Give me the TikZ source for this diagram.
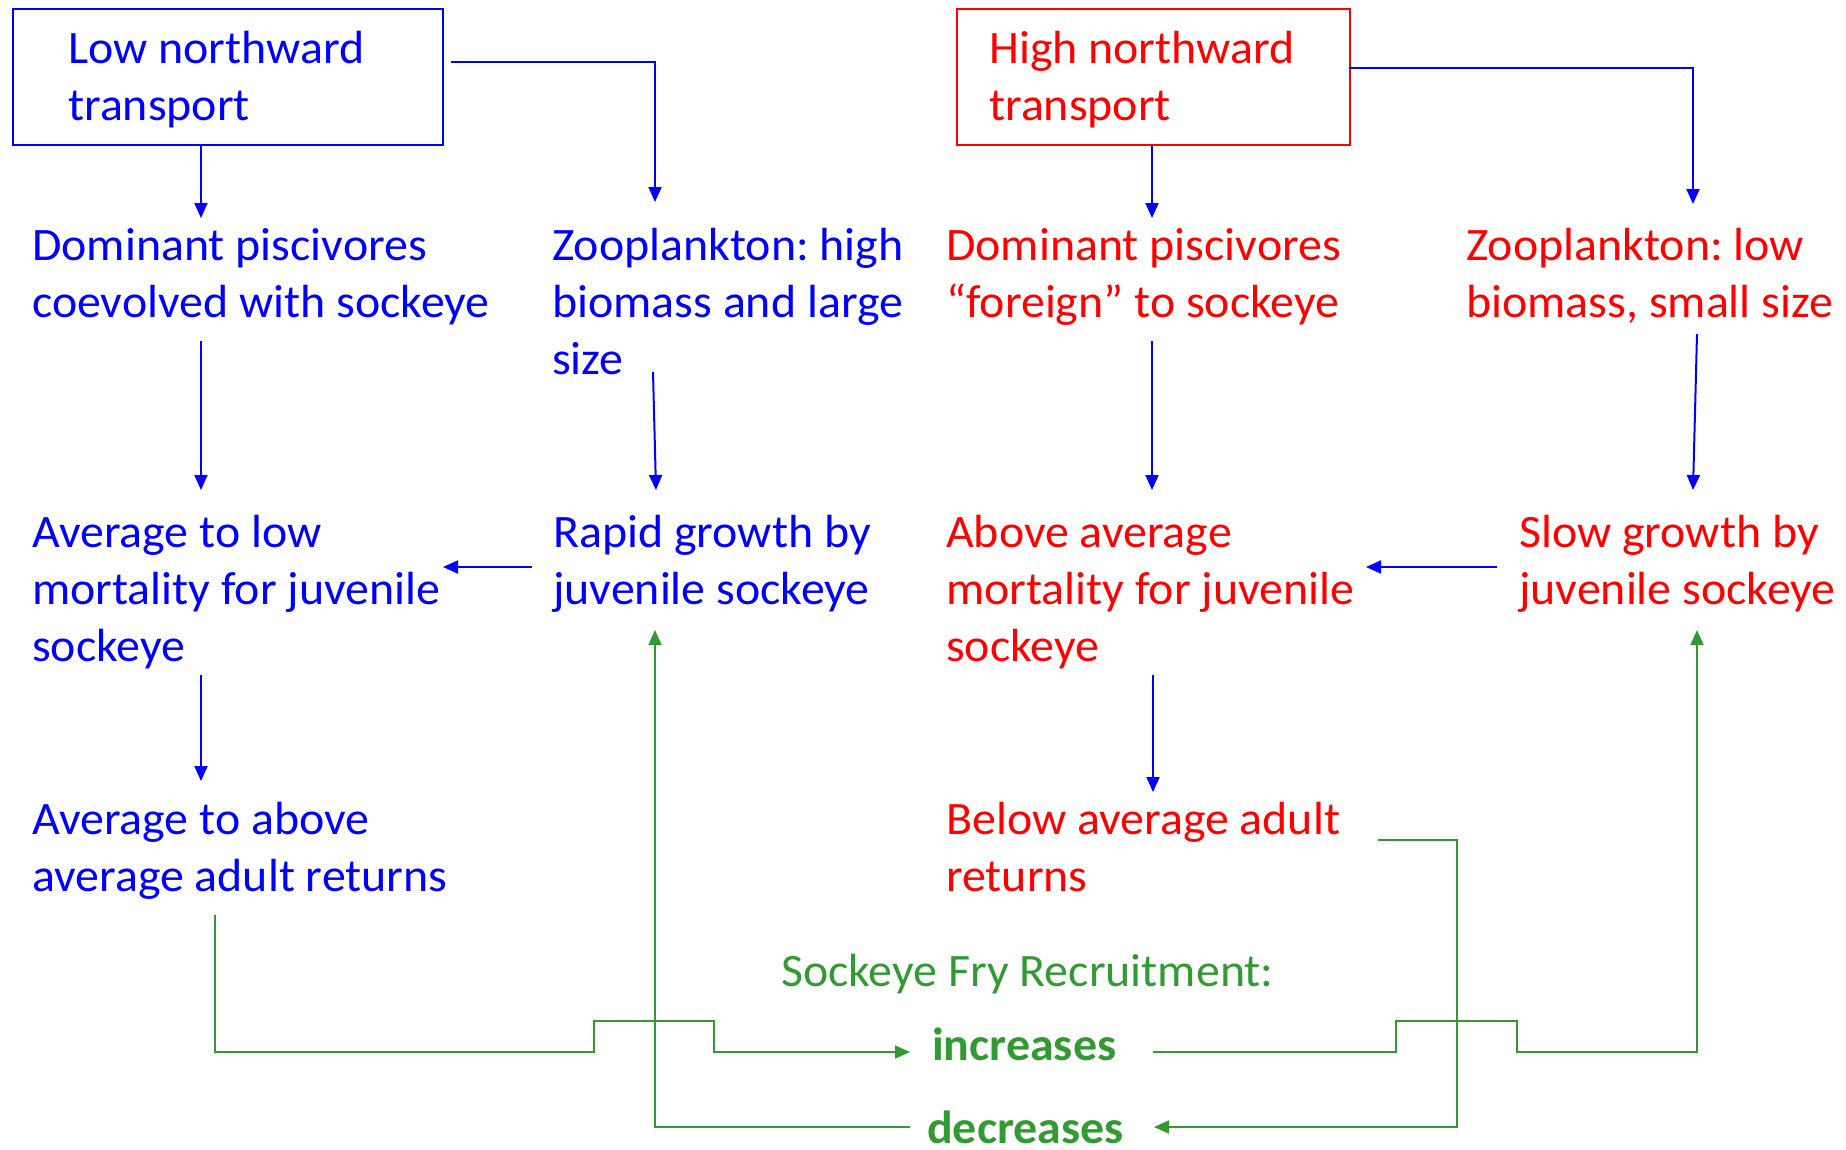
\documentclass[tikz,border=0pt]{standalone}
\usepackage{fontspec}
\setmainfont{Carlito}[FakeStretch=1.03]
\usetikzlibrary{arrows.meta}
\definecolor{fblue}{RGB}{0,0,255}
\definecolor{fred}{RGB}{255,0,0}
\definecolor{fgreen}{RGB}{51,153,51}
\begin{document}
\begin{tikzpicture}[x=1pt,y=-1pt,
  every node/.style={font=\fontsize{46.5}{57}\selectfont\frenchspacing},
  txt/.style={anchor=base west, inner sep=0pt, align=flush left},
  bluetxt/.style={txt, text=fblue},
  redtxt/.style={txt, text=fred},
  boxnode/.style={draw, line width=2pt, anchor=north west, inner sep=0pt, minimum height=136pt},
  arr/.style={draw=fblue, line width=2pt, -{Triangle[length=15pt,width=13pt]}},
  garr/.style={draw=fgreen, line width=2pt, -{Triangle[length=15pt,width=13pt]}},
  boldgreen/.style={txt, text=fgreen, font=\fontsize{46.5}{57}\selectfont\bfseries}]
\path[use as bounding box] (0,0) rectangle (1846,1149);

% boxes
\node[boxnode, draw=fblue, minimum width=430pt] (low) at (12,8) {};
\node[bluetxt] (lowtxt) at (68,120) {Low northward\\transport};
\node[boxnode, draw=fred, minimum width=393pt] (high) at (956,8) {};
\node[redtxt] (hightxt) at (989,120) {High northward\\transport};

% text nodes (anchor = baseline of last line)
\node[bluetxt] (domL) at (32,317) {Dominant piscivores\\coevolved with sockeye};
\node[bluetxt] (zooH) at (552,374) {Zooplankton: high\\biomass and large\\size};
\node[redtxt] (domR) at (946,317) {Dominant piscivores\\“foreign” to sockeye};
\node[redtxt] (zooL) at (1466,317) {Zooplankton: low\\biomass, small size};
\node[bluetxt] (mortL) at (32,661) {Average to low\\mortality for juvenile\\sockeye};
\node[bluetxt] (rapid) at (553,604) {Rapid growth by\\juvenile sockeye};
\node[redtxt] (mortR) at (946,661) {Above average\\mortality for juvenile\\sockeye};
\node[redtxt] (slow) at (1519,604) {Slow growth by\\juvenile sockeye};
\node[bluetxt] (retL) at (32,891) {Average to above\\average adult returns};
\node[redtxt] (retR) at (946,891) {Below average adult\\returns};
\node[txt, text=fgreen] (fry) at (781,986) {Sockeye Fry Recruitment:};
\node[boldgreen] (inc) at (932,1060) {increases};
\node[boldgreen] (dec) at (927,1143) {decreases};

% connector end points
\coordinate (c1) at (201,218);
\coordinate (c2a) at (451,62);
\coordinate (c2b) at (655,202);
\coordinate (c3a) at (201,341);
\coordinate (c3b) at (201,490);
\coordinate (c4a) at (653,372);
\coordinate (c4b) at (656,490);
\coordinate (c5a) at (532,567);
\coordinate (c5b) at (443,567);
\coordinate (c6a) at (201,675);
\coordinate (c6b) at (201,781);
\coordinate (c7) at (1152,218);
\coordinate (c8a) at (1349,68);
\coordinate (c8b) at (1693,204);
\coordinate (c9a) at (1152,341);
\coordinate (c9b) at (1152,490);
\coordinate (c10a) at (1697,334);
\coordinate (c10b) at (1693,490);
\coordinate (c11a) at (1497,567);
\coordinate (c11b) at (1366,567);
\coordinate (c12a) at (1153,675);
\coordinate (c12b) at (1153,792);
\coordinate (g1a) at (215,915);
\coordinate (g1b) at (910,1052);
\coordinate (g2a) at (1153,1052);
\coordinate (g2b) at (1697,630);
\coordinate (g3a) at (1378,840);
\coordinate (g3b) at (1154,1127);
\coordinate (g4a) at (910,1127);
\coordinate (g4b) at (655,630);

% blue arrows
\draw[arr] (low.south -| c1) -- (c1);
\draw[arr] (c2a) -- (c2a -| c2b) -- (c2b);
\draw[arr] (c3a) -- (c3b);
\draw[arr] (c4a) -- (c4b);
\draw[arr] (c5a) -- (c5b);
\draw[arr] (c6a) -- (c6b);
\draw[arr] (high.south -| c7) -- (c7);
\draw[arr] (c8a) -- (c8a -| c8b) -- (c8b);
\draw[arr] (c9a) -- (c9b);
\draw[arr] (c10a) -- (c10b);
\draw[arr] (c11a) -- (c11b);
\draw[arr] (c12a) -- (c12b);

% green connectors
\draw[garr] (g1a) -- (215,1052) -- (594,1052) -- (594,1021) -- (714,1021) -- (714,1052) -- (g1b);
\draw[garr] (g2a) -- (1396,1052) -- (1396,1021) -- (1517,1021) -- (1517,1052) -- (1697,1052) -- (g2b);
\draw[garr] (g3a) -- (1457,840) -- (1457,1127) -- (g3b);
\draw[garr] (g4a) -- (655,1127) -- (g4b);
\end{tikzpicture}
\end{document}
